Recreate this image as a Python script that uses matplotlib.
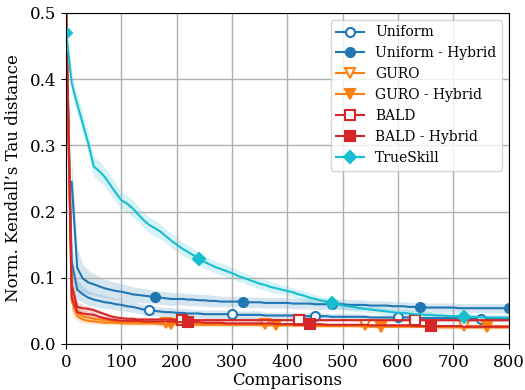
import numpy as np
import matplotlib
matplotlib.use("Agg")
import matplotlib.pyplot as plt

plt.rcParams['font.family'] = 'serif'
plt.rcParams['font.serif'] = ['DejaVu Serif']

nan = np.nan

# Vergleiche (x-Achse), Schrittweite 10
comparisons = np.arange(0, 801, 10)

uniform = [
    0.500, 0.125, 0.082, 0.075, 0.070, 0.067, 0.065, 0.063, 0.062,
    0.060, 0.059, 0.057, 0.056, 0.054, 0.052, 0.051, 0.050, 0.049,
    0.048, 0.048, 0.047, 0.047, 0.046, 0.046, 0.046, 0.045, 0.045,
    0.045, 0.045, 0.045, 0.045, 0.044, 0.044, 0.044, 0.044, 0.044,
    0.043, 0.043, 0.043, 0.043, 0.043, 0.043, 0.042, 0.042, 0.042,
    0.042, 0.042, 0.042, 0.041, 0.041, 0.041, 0.041, 0.041, 0.041,
    0.041, 0.040, 0.040, 0.040, 0.040, 0.040, 0.040, 0.040, 0.040,
    0.039, 0.039, 0.039, 0.039, 0.039, 0.039, 0.039, 0.039, 0.039,
    0.038, 0.038, 0.038, 0.038, 0.038, 0.038, 0.038, 0.038, 0.038,
]
uniform_err = [
    0.000, 0.030, 0.015, 0.012, 0.011, 0.010, 0.010, 0.010, 0.009,
    0.009, 0.009, 0.008, 0.008, 0.008, 0.008, 0.008, 0.007, 0.007,
    0.007, 0.007, 0.007, 0.007, 0.007, 0.006, 0.006, 0.006, 0.006,
    0.006, 0.006, 0.006, 0.006, 0.006, 0.006, 0.006, 0.006, 0.006,
    0.005, 0.005, 0.005, 0.005, 0.005, 0.005, 0.005, 0.005, 0.005,
    0.005, 0.005, 0.005, 0.005, 0.005, 0.005, 0.005, 0.005, 0.005,
    0.004, 0.004, 0.004, 0.004, 0.004, 0.004, 0.004, 0.004, 0.004,
    0.004, 0.004, 0.004, 0.004, 0.004, 0.004, 0.004, 0.004, 0.004,
    0.004, 0.004, 0.004, 0.004, 0.004, 0.004, 0.004, 0.004, 0.004,
]

uniform_hybrid = [
    nan, 0.245, 0.115, 0.099, 0.093, 0.090, 0.087, 0.084, 0.082,
    0.080, 0.079, 0.077, 0.075, 0.074, 0.073, 0.072, 0.071, 0.070,
    0.069, 0.068, 0.068, 0.068, 0.067, 0.067, 0.066, 0.066, 0.065,
    0.065, 0.064, 0.064, 0.064, 0.064, 0.063, 0.063, 0.063, 0.063,
    0.062, 0.062, 0.062, 0.062, 0.062, 0.061, 0.061, 0.061, 0.061,
    0.060, 0.060, 0.060, 0.060, 0.060, 0.060, 0.059, 0.059, 0.059,
    0.059, 0.058, 0.058, 0.058, 0.058, 0.057, 0.057, 0.057, 0.056,
    0.056, 0.0555, 0.055, 0.055, 0.055, 0.055, 0.055, 0.055, 0.054,
    0.054, 0.054, 0.054, 0.054, 0.054, 0.054, 0.054, 0.054, 0.054,
]
uniform_hybrid_err = [
    nan, 0.040, 0.030, 0.022, 0.018, 0.016, 0.015, 0.014, 0.013,
    0.013, 0.012, 0.012, 0.011, 0.011, 0.011, 0.010, 0.010, 0.010,
    0.010, 0.010, 0.009, 0.009, 0.009, 0.009, 0.009, 0.009, 0.009,
    0.008, 0.008, 0.008, 0.008, 0.008, 0.008, 0.008, 0.008, 0.008,
    0.008, 0.008, 0.008, 0.008, 0.008, 0.008, 0.008, 0.008, 0.008,
    0.008, 0.008, 0.008, 0.008, 0.008, 0.008, 0.008, 0.008, 0.008,
    0.007, 0.007, 0.007, 0.007, 0.007, 0.007, 0.007, 0.007, 0.007,
    0.007, 0.007, 0.007, 0.007, 0.007, 0.007, 0.007, 0.007, 0.007,
    0.007, 0.007, 0.007, 0.007, 0.007, 0.007, 0.007, 0.007, 0.007,
]

guro = [
    0.500, 0.075, 0.048, 0.042, 0.040, 0.038, 0.037, 0.036, 0.035,
    0.034, 0.034, 0.034, 0.033, 0.033, 0.033, 0.033, 0.032, 0.032,
    0.032, 0.032, 0.032, 0.031, 0.031, 0.031, 0.031, 0.031, 0.031,
    0.031, 0.031, 0.030, 0.030, 0.030, 0.030, 0.030, 0.030, 0.030,
    0.030, 0.030, 0.029, 0.029, 0.029, 0.029, 0.029, 0.029, 0.029,
    0.029, 0.029, 0.029, 0.028, 0.028, 0.028, 0.028, 0.028, 0.028,
    0.028, 0.028, 0.028, 0.028, 0.028, 0.028, 0.028, 0.028, 0.028,
    0.027, 0.027, 0.027, 0.027, 0.027, 0.027, 0.027, 0.027, 0.027,
    0.027, 0.027, 0.027, 0.027, 0.027, 0.027, 0.027, 0.027, 0.027,
]
guro_hybrid = [
    0.500, 0.065, 0.042, 0.037, 0.035, 0.034, 0.033, 0.032, 0.032,
    0.032, 0.031, 0.031, 0.031, 0.031, 0.031, 0.031, 0.031, 0.030,
    0.030, 0.030, 0.030, 0.030, 0.030, 0.029, 0.029, 0.029, 0.029,
    0.029, 0.029, 0.029, 0.029, 0.029, 0.029, 0.029, 0.029, 0.029,
    0.028, 0.028, 0.028, 0.028, 0.028, 0.028, 0.028, 0.028, 0.028,
    0.027, 0.027, 0.027, 0.027, 0.027, 0.027, 0.027, 0.027, 0.027,
    0.026, 0.026, 0.026, 0.026, 0.026, 0.026, 0.026, 0.026, 0.026,
    0.026, 0.026, 0.026, 0.026, 0.025, 0.025, 0.025, 0.025, 0.025,
    0.025, 0.025, 0.025, 0.025, 0.025, 0.025, 0.025, 0.025, 0.025,
]
guro_err = [
    0.000, 0.020, 0.008, 0.005, 0.004, 0.004, 0.003, 0.003, 0.003,
    0.003, 0.003, 0.003, 0.003, 0.003, 0.003, 0.003, 0.003, 0.003,
    0.003, 0.003, 0.003, 0.003, 0.003, 0.003, 0.003, 0.003, 0.003,
    0.003, 0.003, 0.003, 0.003, 0.003, 0.003, 0.003, 0.003, 0.003,
    0.002, 0.002, 0.002, 0.002, 0.002, 0.002, 0.002, 0.002, 0.002,
    0.002, 0.002, 0.002, 0.002, 0.002, 0.002, 0.002, 0.002, 0.002,
    0.002, 0.002, 0.002, 0.002, 0.002, 0.002, 0.002, 0.002, 0.002,
    0.002, 0.002, 0.002, 0.002, 0.002, 0.002, 0.002, 0.002, 0.002,
    0.002, 0.002, 0.002, 0.002, 0.002, 0.002, 0.002, 0.002, 0.002,
]

bald = [
    0.500, 0.090, 0.056, 0.054, 0.053, 0.051, 0.048, 0.045, 0.042,
    0.040, 0.039, 0.038, 0.038, 0.037, 0.037, 0.037, 0.037, 0.037,
    0.037, 0.037, 0.036, 0.036, 0.036, 0.036, 0.036, 0.036, 0.036,
    0.036, 0.036, 0.036, 0.036, 0.036, 0.036, 0.036, 0.036, 0.036,
    0.036, 0.036, 0.036, 0.036, 0.036, 0.036, 0.036, 0.036, 0.036,
    0.036, 0.036, 0.036, 0.036, 0.036, 0.036, 0.036, 0.036, 0.036,
    0.036, 0.036, 0.036, 0.036, 0.036, 0.036, 0.036, 0.036, 0.036,
    0.036, 0.036, 0.036, 0.036, 0.036, 0.036, 0.036, 0.036, 0.036,
    0.036, 0.036, 0.036, 0.036, 0.036, 0.036, 0.036, 0.036, 0.036,
]
bald_hybrid = [
    0.500, 0.070, 0.048, 0.046, 0.045, 0.044, 0.041, 0.039, 0.037,
    0.036, 0.035, 0.035, 0.035, 0.035, 0.034, 0.034, 0.034, 0.034,
    0.034, 0.034, 0.033, 0.033, 0.033, 0.033, 0.033, 0.032, 0.032,
    0.032, 0.032, 0.031, 0.031, 0.031, 0.031, 0.031, 0.031, 0.031,
    0.031, 0.031, 0.030, 0.030, 0.030, 0.030, 0.030, 0.030, 0.030,
    0.030, 0.030, 0.029, 0.029, 0.029, 0.029, 0.029, 0.029, 0.029,
    0.029, 0.028, 0.028, 0.028, 0.028, 0.028, 0.028, 0.028, 0.028,
    0.027, 0.027, 0.027, 0.027, 0.027, 0.027, 0.027, 0.027, 0.027,
    0.026, 0.026, 0.026, 0.026, 0.026, 0.026, 0.026, 0.026, 0.026,
]
bald_err = guro_err

trueskill = [
    0.470, 0.394, 0.362, 0.333, 0.303, 0.268, 0.261, 0.252, 0.240,
    0.228, 0.217, 0.212, 0.205, 0.196, 0.187, 0.180, 0.175, 0.170,
    0.163, 0.156, 0.150, 0.144, 0.139, 0.134, 0.129, 0.124, 0.120,
    0.116, 0.113, 0.110, 0.107, 0.103, 0.100, 0.097, 0.094, 0.091,
    0.089, 0.086, 0.084, 0.082, 0.080, 0.078, 0.075, 0.073, 0.070,
    0.068, 0.066, 0.064, 0.062, 0.060, 0.058, 0.057, 0.056, 0.054,
    0.053, 0.052, 0.051, 0.050, 0.049, 0.048, 0.047, 0.047, 0.046,
    0.045, 0.045, 0.044, 0.044, 0.043, 0.043, 0.042, 0.042, 0.042,
    0.041, 0.041, 0.041, 0.040, 0.040, 0.040, 0.040, 0.040, 0.040,
]
trueskill_err = [
    0.010, 0.016, 0.016, 0.016, 0.016, 0.016, 0.015, 0.015, 0.014,
    0.014, 0.013, 0.013, 0.013, 0.012, 0.012, 0.012, 0.012, 0.011,
    0.011, 0.011, 0.011, 0.010, 0.010, 0.010, 0.010, 0.010, 0.009,
    0.009, 0.009, 0.009, 0.009, 0.009, 0.008, 0.008, 0.008, 0.008,
    0.008, 0.008, 0.008, 0.007, 0.007, 0.007, 0.007, 0.007, 0.007,
    0.007, 0.006, 0.006, 0.006, 0.006, 0.006, 0.006, 0.006, 0.006,
    0.005, 0.005, 0.005, 0.005, 0.005, 0.005, 0.005, 0.005, 0.005,
    0.005, 0.005, 0.005, 0.005, 0.005, 0.005, 0.005, 0.005, 0.005,
    0.004, 0.004, 0.004, 0.004, 0.004, 0.004, 0.004, 0.004, 0.004,
]

# (Label, Mittelwert, Streuung, Farbe, Marker, gefuellt, markevery)
series = [
    ('Uniform', uniform, uniform_err, '#1f77b4', 'o', False, slice(15, None, 15)),
    ('Uniform - Hybrid', uniform_hybrid, uniform_hybrid_err, '#1f77b4', 'o', True, slice(16, None, 16)),
    ('GURO', guro, guro_err, '#ff7f0e', 'v', False, slice(18, None, 18)),
    ('GURO - Hybrid', guro_hybrid, guro_err, '#ff7f0e', 'v', True, slice(19, None, 19)),
    ('BALD', bald, bald_err, '#d62728', 's', False, slice(21, None, 21)),
    ('BALD - Hybrid', bald_hybrid, bald_err, '#d62728', 's', True, slice(22, None, 22)),
    ('TrueSkill', trueskill, trueskill_err, '#17becf', 'D', True, 24),
]

fig, ax = plt.subplots(figsize=(5.25, 3.9), dpi=100)
fig.subplots_adjust(left=0.126, right=0.969, bottom=0.118, top=0.967)

for label, mean, err, color, marker, filled, every in series:
    mean = np.array(mean)
    err = np.array(err)
    ax.fill_between(comparisons, mean - err, mean + err, color=color, alpha=0.18, linewidth=0)
    ax.plot(comparisons, mean, color=color, linewidth=1.5, marker=marker,
            markevery=every, markersize=6.5,
            markerfacecolor=color if filled else 'white',
            markeredgewidth=1.5, label=label)

ax.set_xlim(0, 800)
ax.set_ylim(0, 0.5)
ax.set_xticks(range(0, 801, 100))
ax.set_yticks([0.0, 0.1, 0.2, 0.3, 0.4, 0.5])
ax.tick_params(labelsize=12)
ax.set_xlabel('Comparisons', fontsize=12, labelpad=1)
ax.set_ylabel("Norm. Kendall’s Tau distance", fontsize=12, labelpad=6)
ax.grid(True, color='#b0b0b0', linewidth=1)
ax.legend(loc='upper right', fontsize=10, handlelength=2, borderaxespad=0.5)

fig.savefig('out.png', dpi=100)
